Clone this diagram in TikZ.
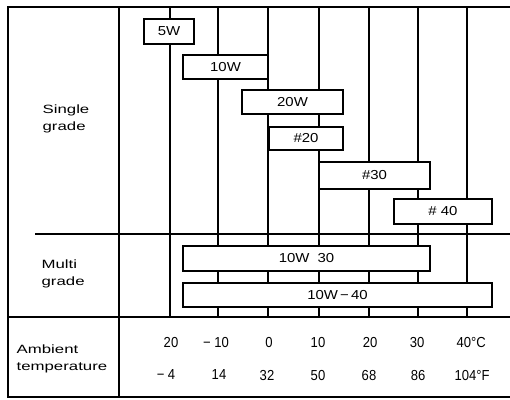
\documentclass[tikz,border=0pt]{standalone}
\usepackage{fontspec}
\setmainfont{Liberation Sans}
\newfontfamily\widesans[FakeStretch=1.4]{Liberation Sans}
\newfontfamily\boxsans[FakeStretch=1.15]{Liberation Sans}
\newfontfamily\numsans[FakeStretch=0.9]{Liberation Sans}
\begin{document}
\begin{tikzpicture}[x=1pt,y=-1pt,line width=1.3pt,
    gradebox/.style={draw,fill=white,inner sep=0pt,
        font=\boxsans\fontsize{13}{14}\selectfont},
    rowlabel/.style={anchor=west,align=left,inner sep=0pt,
        font=\widesans\fontsize{12}{17}\selectfont},
    tempnum/.style={inner sep=0pt,
        font=\numsans\fontsize{14.5}{15}\selectfont}]
    \useasboundingbox (0,0) rectangle (510,399);

    % Frame and rows
    \draw (510,7) -- (8,7) -- (8,397) -- (510,397);
    \draw (119,7) -- (119,397);
    \draw (35,234) -- (510,234);
    \draw (8,317) -- (510,317);

    % Temperature lines
    \draw (170,7) -- (170,317);
    \draw (218,7) -- (218,317);
    \draw (268,7) -- (268,317);
    \draw (319,7) -- (319,317);
    \draw (369,7) -- (369,317);
    \draw (418,7) -- (418,317);
    \draw (467,7) -- (467,317);

    % Row labels
    \node[rowlabel] (single) at (42,119)
        {Single\\grade};
    \node[rowlabel] (multi) at (41,274)
        {Multi\\grade};
    \node[rowlabel] (ambient) at (16,359)
        {Ambient\\temperature};

    % Single grade
    \node[gradebox,minimum width=50pt,
        minimum height=25pt] (sae5w) at (169,31.5) {5W};
    \node[gradebox,minimum width=85pt,
        minimum height=24pt] (sae10w) at (225.5,67) {10W};
    \node[gradebox,minimum width=101pt,
        minimum height=24pt] (sae20w) at (292.5,102) {20W};
    \node[gradebox,minimum width=74pt,
        minimum height=23pt] (sae20) at (306,138.5) {\#20};
    \node[gradebox,minimum width=111pt,
        minimum height=27pt] (sae30) at (374.5,175.5) {\#30};
    \node[gradebox,minimum width=98pt,
        minimum height=25pt] (sae40) at (443,211.5) {\# 40};

    % Multi grade
    \node[gradebox,minimum width=247pt,
        minimum height=25pt] (sae10w30) at (306.5,258.5)
        {10W\hspace{8pt}30};
    \node[gradebox,minimum width=309pt,
        minimum height=24pt] (sae10w40) at (337.5,295)
        {10W\,−\,40};

    % Ambient temperature, top row in C, bottom row in F
    \node[tempnum] (c1) at (171,342) {20};
    \node[tempnum] (c2) at (216,342) {− 10};
    \node[tempnum] (c3) at (269,342) {0};
    \node[tempnum] (c4) at (318,342) {10};
    \node[tempnum] (c5) at (370,342) {20};
    \node[tempnum] (c6) at (417,342) {30};
    \node[tempnum,anchor=west] (c7) at (456,342) {40°C};
    %
    \node[tempnum] (f1) at (166,375) {− 4};
    \node[tempnum] (f2) at (219,375) {14};
    \node[tempnum] (f3) at (267,375) {32};
    \node[tempnum] (f4) at (318,375) {50};
    \node[tempnum] (f5) at (369,375) {68};
    \node[tempnum] (f6) at (418,375) {86};
    \node[tempnum,anchor=west] (f7) at (454,375) {104°F};

\end{tikzpicture}
\end{document}
